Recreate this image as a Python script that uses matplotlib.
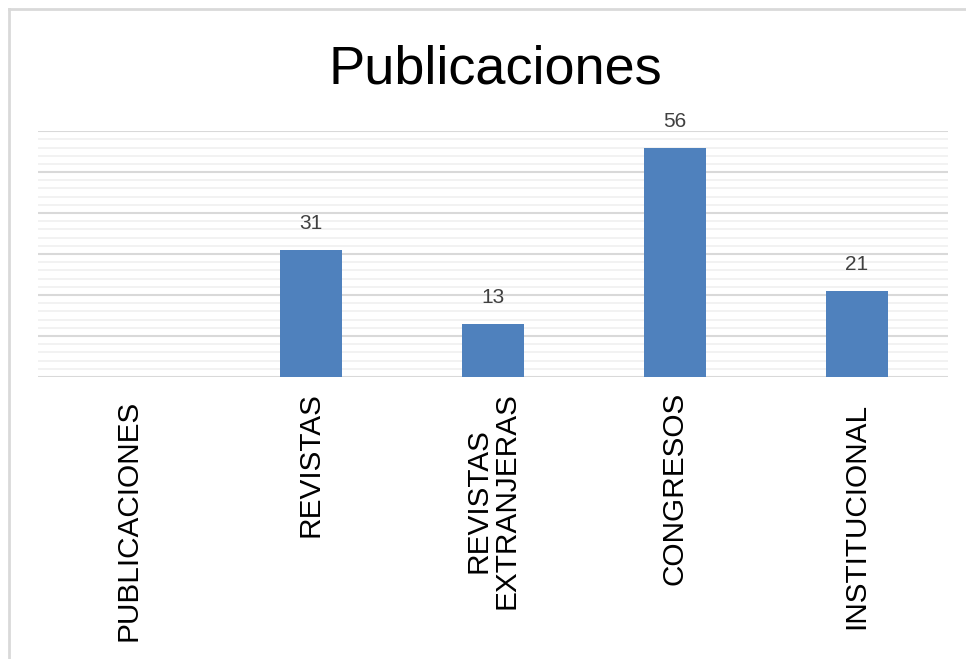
import matplotlib.pyplot as plt
from matplotlib.lines import Line2D
from matplotlib.transforms import ScaledTranslation

categories = ['PUBLICACIONES', 'REVISTAS', 'REVISTAS\nEXTRANJERAS', 'CONGRESOS', 'INSTITUCIONAL']
values = [None, 31, 13, 56, 21]

plt.rcParams['font.family'] = ['Liberation Sans', 'DejaVu Sans']

fig = plt.figure(figsize=(9.66, 6.59), dpi=100)
ax = fig.add_axes([0.039, 0.428, 0.942, 0.373])

x = list(range(len(categories)))
heights = [v if v is not None else 0 for v in values]
bars = ax.bar(x, heights, width=0.34, color='#4f81bd', zorder=3)

# data labels (skip empty category)
for xi, v in zip(x, values):
    if v is None:
        continue
    ax.annotate(str(v), (xi, v), xytext=(0, 12), textcoords='offset points',
                ha='center', va='bottom', fontsize=15, color='#404040')

ax.set_xlim(-0.5, len(categories) - 0.5)
ax.set_ylim(0, 60)
ax.set_yticks(range(0, 61, 10))
ax.set_yticks(range(0, 61, 2), minor=True)
ax.grid(axis='y', which='major', color='#d9d9d9', linewidth=1.5, zorder=0)
ax.grid(axis='y', which='minor', color='#f0f0f0', linewidth=1.2, zorder=0)
ax.tick_params(axis='y', which='both', left=False, labelleft=False)
ax.tick_params(axis='x', length=0, pad=11)
ax.set_xticks(x)
ax.set_xticklabels(categories, rotation=90, fontsize=21.4, va='top', ha='center',
                   multialignment='center', linespacing=1.0)
# the two long labels sit a bit lower in the original
for lbl, dy in zip(ax.get_xticklabels(), [8, 0, 0, 0, 11]):
    if dy:
        lbl.set_transform(lbl.get_transform() + ScaledTranslation(0, -dy / 100, fig.dpi_scale_trans))
for s in ax.spines.values():
    s.set_visible(False)

fig.text(0.513, 0.895, 'Publicaciones', ha='center', va='center', fontsize=39)

# chart area border (left and top)
fig.add_artist(Line2D([0.0095, 0.0095], [0, 0.986], color='#d9d9d9', linewidth=2,
                      transform=fig.transFigure))
fig.add_artist(Line2D([0.0095, 1], [0.986, 0.986], color='#d9d9d9', linewidth=2,
                      transform=fig.transFigure))

fig.savefig('out.png', dpi=100)
